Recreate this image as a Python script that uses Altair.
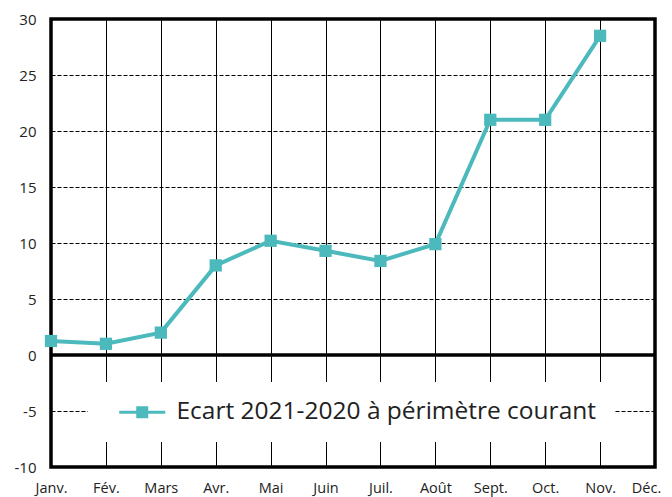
import altair as alt
import pandas as pd

months = ["Janv.", "Fév.", "Mars", "Avr.", "Mai", "Juin", "Juil.", "Août", "Sept.", "Oct.", "Nov.", "Déc."]
values = [1.25, 1.0, 2.0, 8.0, 10.2, 9.3, 8.4, 9.9, 21.0, 21.0, 28.5]
series_name = "Ecart 2021-2020 à périmètre courant"
y_ticks = [-10, -5, 0, 5, 10, 15, 20, 25, 30]

df = pd.DataFrame({
    "m": list(range(1, len(values) + 1)),
    "v": values,
    "s": [series_name] * len(values),
})

teal = "#4cb9bc"
font = "Open Sans"
label_expr = "[" + ",".join("'" + m + "'" for m in months) + "][datum.value - 1]"
sym_path = "M0.1,-0.15H4.7V0.15H0.1Z M1.8,-0.6H3.0V0.6H1.8Z"

x_enc = alt.X("m:Q", scale=alt.Scale(domain=[1, 12], nice=False, zero=False),
              axis=alt.Axis(values=list(range(1, 13)), labelExpr=label_expr, title=None,
                            grid=True, gridColor="black", gridWidth=1, gridOpacity=1,
                            domain=False, ticks=False, labelPadding=14, labelFontSize=14.5,
                            labelFont=font, labelColor="#222", labelFlush=False,
                            labelOffset=alt.ExprRef("datum.value == 12 ? -9 : 0")))
y_enc = alt.Y("v:Q", scale=alt.Scale(domain=[-10, 30], nice=False),
              axis=alt.Axis(values=y_ticks, title=None, grid=True, gridColor="black",
                            gridDash=[4, 2], gridWidth=1, gridOpacity=1, domain=False,
                            ticks=False, labelPadding=15, labelFontSize=15, labelFont=font,
                            labelColor="#222", labelExpr="'' + datum.value"))

line = alt.Chart(df).mark_line(
    strokeWidth=4,
    point=alt.OverlayMarkDef(shape="square", size=150, filled=True, color=teal, opacity=1),
).encode(
    x=x_enc,
    y=y_enc,
    color=alt.Color("s:N", scale=alt.Scale(range=[teal]),
                    legend=alt.Legend(
                        title=None, orient="none", legendX=37, legendY=363,
                        fillColor="white", padding=18, labelFontSize=24.5, labelFont=font,
                        labelColor="#222", labelLimit=0, labelOffset=46,
                        symbolType=sym_path, symbolSize=400, symbolFillColor=teal,
                        symbolStrokeColor=teal, symbolStrokeWidth=0, symbolOpacity=1,
                    )),
)

zero = alt.Chart(pd.DataFrame({"z": [0]})).mark_rule(color="black", strokeWidth=3.5).encode(
    y=alt.Y("z:Q", scale=alt.Scale(domain=[-10, 30], nice=False))
)

chart = alt.layer(zero, line).properties(
    width=604, height=448,
    autosize=alt.AutoSizeParams(type="none"),
    padding={"left": 43, "top": 11, "right": 9, "bottom": 30},
).configure(background="white").configure_view(stroke="black", strokeWidth=3.5)

chart.save("out.html", embed_options={"renderer": "svg", "actions": False})
